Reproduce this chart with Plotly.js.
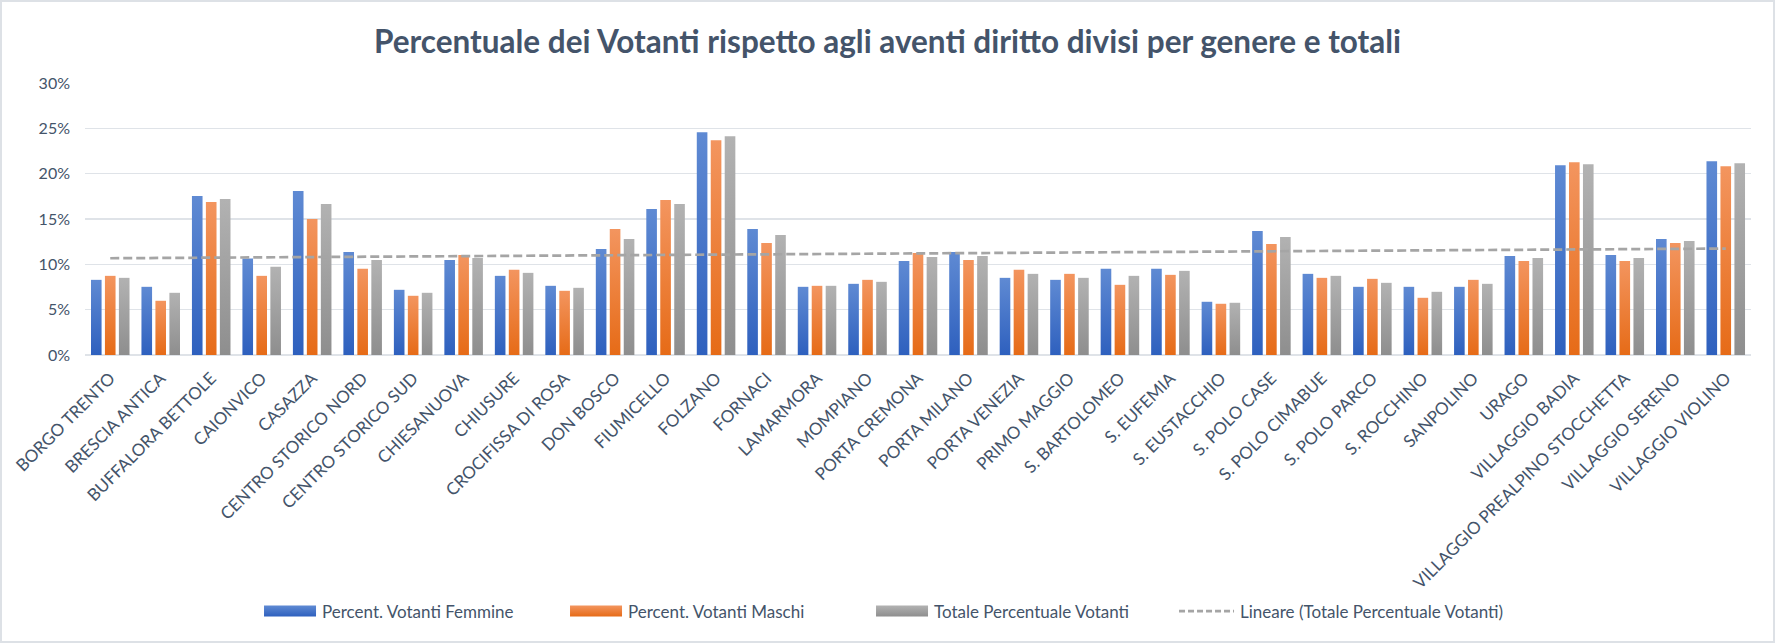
<!DOCTYPE html>
<html>
<head>
<meta charset="utf-8">
<script src="https://cdn.plot.ly/plotly-3.0.1.min.js"></script>
<style>
  html, body { margin: 0; padding: 0; background: #fff; }
  #wrap { position: relative; width: 1775px; height: 643px; }
  #chart { width: 1775px; height: 643px; }
  #frame { position: absolute; left: 0; top: 0; width: 1775px; height: 643px;
           box-sizing: border-box; border: 2px solid #dde1e6; pointer-events: none; }
</style>
</head>
<body>
<div id="wrap">
  <div id="chart"></div>
  <div id="frame"></div>
</div>
<script>
const quartieri = [
    'BORGO TRENTO', 'BRESCIA ANTICA', 'BUFFALORA BETTOLE', 'CAIONVICO', 'CASAZZA',
    'CENTRO STORICO NORD', 'CENTRO STORICO SUD', 'CHIESANUOVA', 'CHIUSURE', 'CROCIFISSA DI ROSA',
    'DON BOSCO', 'FIUMICELLO', 'FOLZANO', 'FORNACI', 'LAMARMORA', 'MOMPIANO',
    'PORTA CREMONA', 'PORTA MILANO', 'PORTA VENEZIA', 'PRIMO MAGGIO', 'S. BARTOLOMEO',
    'S. EUFEMIA', 'S. EUSTACCHIO', 'S. POLO CASE', 'S. POLO CIMABUE', 'S. POLO PARCO',
    'S. ROCCHINO', 'SANPOLINO', 'URAGO', 'VILLAGGIO BADIA', 'VILLAGGIO PREALPINO STOCCHETTA',
    'VILLAGGIO SERENO', 'VILLAGGIO VIOLINO'
];

const femmine = [
    8.29, 7.52, 17.53, 10.64, 18.08, 11.37, 7.19, 10.49, 8.73, 7.63,
    11.70, 16.10, 24.57, 13.90, 7.52, 7.85, 10.38, 11.37, 8.51, 8.29, 9.50,
    9.50, 5.87, 13.68, 8.95, 7.52, 7.52, 7.52, 10.93, 20.94, 11.04, 12.80, 21.38
];

const maschi = [
    8.73, 5.98, 16.87, 8.73, 15.00, 9.50, 6.53, 11.04, 9.39, 7.08,
    13.90, 17.09, 23.69, 12.36, 7.63, 8.29, 11.26, 10.49, 9.39, 8.95, 7.74,
    8.84, 5.65, 12.25, 8.51, 8.40, 6.31, 8.29, 10.38, 21.27, 10.38, 12.36, 20.83
];

const totale = [
    8.51, 6.86, 17.20, 9.72, 16.65, 10.49, 6.86, 10.71, 9.06, 7.41,
    12.80, 16.65, 24.13, 13.24, 7.63, 8.07, 10.82, 10.93, 8.95, 8.51, 8.73,
    9.28, 5.76, 13.02, 8.73, 7.96, 6.97, 7.85, 10.71, 21.05, 10.71, 12.58, 21.16
];

// linea di tendenza: primo e ultimo quartiere
const tendenzaX = [quartieri[0], quartieri[quartieri.length - 1]];
const tendenzaY = [10.67, 11.74];

const TEXT = '#44546a';
const FONT = "Lato, 'Noto Sans', sans-serif";

const gradients = [
    { id: 'gF', top: '#5f8ad3', bottom: '#2e60be' },
    { id: 'gM', top: '#f3955f', bottom: '#e66b17' },
    { id: 'gT', top: '#b2b2b2', bottom: '#8e8e8e' }
];

const barTrace = (name, y, color) => ({
    type: 'bar', name, x: quartieri, y,
    marker: { color, line: { width: 0 } },
    hoverinfo: 'x+y+name'
});

const data = [
    barTrace('Percent. Votanti Femmine', femmine, '#4472c4'),
    barTrace('Percent. Votanti Maschi', maschi, '#ed7d31'),
    barTrace('Totale Percentuale Votanti', totale, '#a5a5a5'),
    {
        type: 'scatter', mode: 'lines', name: 'Lineare (Totale Percentuale Votanti)',
        x: tendenzaX, y: tendenzaY,
        line: { color: '#a5a5a5', width: 2.7, dash: '9px,4px' }
    }
];

const layout = {
    width: 1775, height: 643,
    paper_bgcolor: '#fff', plot_bgcolor: '#fff',
    font: { family: FONT, color: TEXT, size: 17 },
    title: {
        text: '<b>Percentuale dei Votanti rispetto agli aventi diritto divisi per genere e totali</b>',
        font: { family: FONT, size: 31.5, color: TEXT },
        x: 0.5, xref: 'container', xanchor: 'center',
        y: 0.935, yref: 'container', yanchor: 'middle'
    },
    margin: { l: 85, r: 24, t: 83, b: 288 },
    barmode: 'group',
    bargap: 0.17,
    bargroupgap: 0.24,
    xaxis: {
        type: 'category',
        tickangle: -45,
        tickfont: { size: 17, color: TEXT },
        showgrid: false,
        showline: false,
        ticks: '',
        ticklabelstandoff: 9
    },
    yaxis: {
        range: [0, 30],
        dtick: 5,
        ticksuffix: '%',
        tickfont: { size: 16, color: TEXT },
        gridcolor: '#dfe3e8',
        gridwidth: 1.5,
        zeroline: true,
        zerolinecolor: '#dfe3e8',
        zerolinewidth: 1.5,
        ticklabelstandoff: 14
    },
    showlegend: true,
    legend: {
        orientation: 'h',
        x: 0.4676, xanchor: 'center',
        y: -0.943, yanchor: 'middle',
        font: { size: 17, color: TEXT },
        itemwidth: 60,
        entrywidth: 231,
        entrywidthmode: 'pixels',
        traceorder: 'normal'
    }
};

Plotly.newPlot('chart', data, layout, { displayModeBar: false, staticPlot: true }).then(gd => {
    // sfumatura verticale sulle barre, come nel grafico originale
    const svg = gd.querySelector('.main-svg');
    const ns = 'http://www.w3.org/2000/svg';
    let defs = svg.querySelector('defs');
    if (!defs) {
        defs = document.createElementNS(ns, 'defs');
        svg.insertBefore(defs, svg.firstChild);
    }
    gradients.forEach(g => {
        const lg = document.createElementNS(ns, 'linearGradient');
        lg.setAttribute('id', g.id);
        lg.setAttribute('x1', '0'); lg.setAttribute('y1', '0');
        lg.setAttribute('x2', '0'); lg.setAttribute('y2', '1');
        [[0, g.top], [1, g.bottom]].forEach(([off, col]) => {
            const st = document.createElementNS(ns, 'stop');
            st.setAttribute('offset', off);
            st.setAttribute('stop-color', col);
            lg.appendChild(st);
        });
        defs.appendChild(lg);
    });

    gd.querySelectorAll('.barlayer .trace').forEach((t, i) => {
        t.querySelectorAll('path').forEach(p => { p.style.fill = `url(#${gradients[i].id})`; });
    });

    // l'ultima voce della legenda è più lunga della larghezza fissa: niente ritaglio
    const scrollbox = gd.querySelector('.legend .scrollbox');
    if (scrollbox) scrollbox.removeAttribute('clip-path');

    // simboli della legenda larghi come in Excel, subito prima del testo
    gd.querySelectorAll('.legend .traces').forEach((t, i) => {
        const txt = t.querySelector('.legendtext');
        const tx = parseFloat(txt.getAttribute('x')) || 40;
        if (i < 3) {
            t.querySelectorAll('.legendpoints path').forEach(p => {
                p.setAttribute('transform', 'translate(0,0)');
                p.setAttribute('d', `M${tx - 58},-5.5h52v11h-52Z`);
                p.style.fill = `url(#${gradients[i].id})`;
            });
        } else {
            t.querySelectorAll('.legendlines path').forEach(p => {
                p.setAttribute('d', `M${tx - 61},0h55`);
                p.style.strokeDasharray = '6px,3px';
            });
        }
    });
});
</script>
</body>
</html>
